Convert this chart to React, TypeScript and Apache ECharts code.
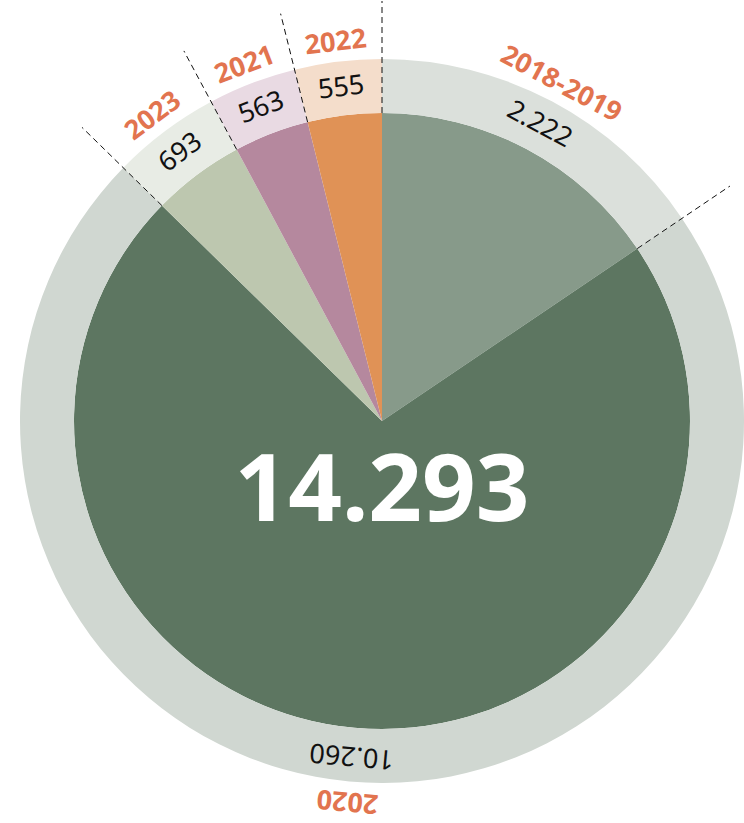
import React, { useEffect, useRef } from "react";
import * as echarts from "echarts";

const categories = ["2018-2019", "2020", "2023", "2021", "2022"];
const values = [2222, 10260, 693, 563, 555];
const valueLabels = ["2.222", "10.260", "693", "563", "555"];
const innerColors = ["#879A8A", "#5D7661", "#BDC7AF", "#B5889E", "#E09256"];
const ringColors = ["#DBE0DB", "#D0D7D1", "#E8ECE5", "#E9DAE3", "#F4DDCB"];
const totalLabel = "14.293";

const CX = 382;
const CY = 421;
const R_IN = 308;
const R_RING = 362;

export default function App() {
  const ref = useRef<HTMLDivElement>(null);
  useEffect(() => {
    document.body.style.margin = "0";
    if (!ref.current) return;
    const chart = echarts.init(ref.current, undefined, { renderer: "svg" });
    const total = values.reduce((a, b) => a + b, 0);
    const mids: number[] = [];
    const bounds: number[] = [];
    let acc = 0;
    values.forEach((v) => {
      bounds.push(acc);
      mids.push(((acc + v / 2) / total) * 360);
      acc += v;
    });
    const font = "'Noto Sans', 'Open Sans', sans-serif";

    const lineSeries = bounds.map((b) => ({
      type: "line",
      coordinateSystem: "polar",
      data: [
        [R_IN, b],
        [420, b],
      ],
      symbol: "none",
      silent: true,
      z: 10,
      lineStyle: { color: "#111", width: 1, type: [6, 4] },
    }));

    chart.setOption({
      animation: false,
      polar: { center: [CX, CY], radius: 420 },
      angleAxis: { type: "value", min: 0, max: total, startAngle: 90, clockwise: true, show: false },
      radiusAxis: { type: "value", min: 0, max: 420, show: false },
      series: [
        {
          type: "pie",
          center: [CX, CY],
          radius: [0, R_IN],
          startAngle: 90,
          clockwise: true,
          silent: true,
          label: { show: false },
          labelLine: { show: false },
          data: categories.map((c, i) => ({
            name: c,
            value: values[i],
            itemStyle: { color: innerColors[i] },
          })),
        },
        {
          type: "pie",
          center: [CX, CY],
          radius: [R_IN, R_RING],
          startAngle: 90,
          clockwise: true,
          silent: true,
          labelLine: { show: false },
          data: categories.map((c, i) => ({
            name: c,
            value: values[i],
            itemStyle: { color: ringColors[i] },
            label: {
              show: true,
              position: "inside",
              formatter: valueLabels[i],
              rotate: -mids[i],
              color: "#111",
              fontSize: 27,
              fontFamily: font,
            },
          })),
        },
        {
          type: "pie",
          center: [CX, CY],
          radius: [R_RING, 399],
          startAngle: 90,
          clockwise: true,
          silent: true,
          labelLine: { show: false },
          data: categories.map((c, i) => ({
            name: c,
            value: values[i],
            itemStyle: { color: "rgba(0,0,0,0)" },
            label: {
              show: true,
              position: "inside",
              formatter: c,
              rotate: -mids[i],
              color: "#E2744F",
              fontSize: 27,
              lineHeight: 28,
              fontWeight: "bold",
              fontFamily: font,
            },
          })),
        },
        ...lineSeries,
      ],
      graphic: [
        {
          type: "text",
          x: CX,
          y: 485,
          z: 20,
          style: {
            text: totalLabel,
            fill: "#ffffff",
            fontSize: 94,
            fontWeight: "bold",
            fontFamily: font,
            textAlign: "center",
            textVerticalAlign: "middle",
          },
        },
      ],
    });
    return () => chart.dispose();
  }, []);
  return <div ref={ref} style={{ width: 744, height: 823 }} />;
}
